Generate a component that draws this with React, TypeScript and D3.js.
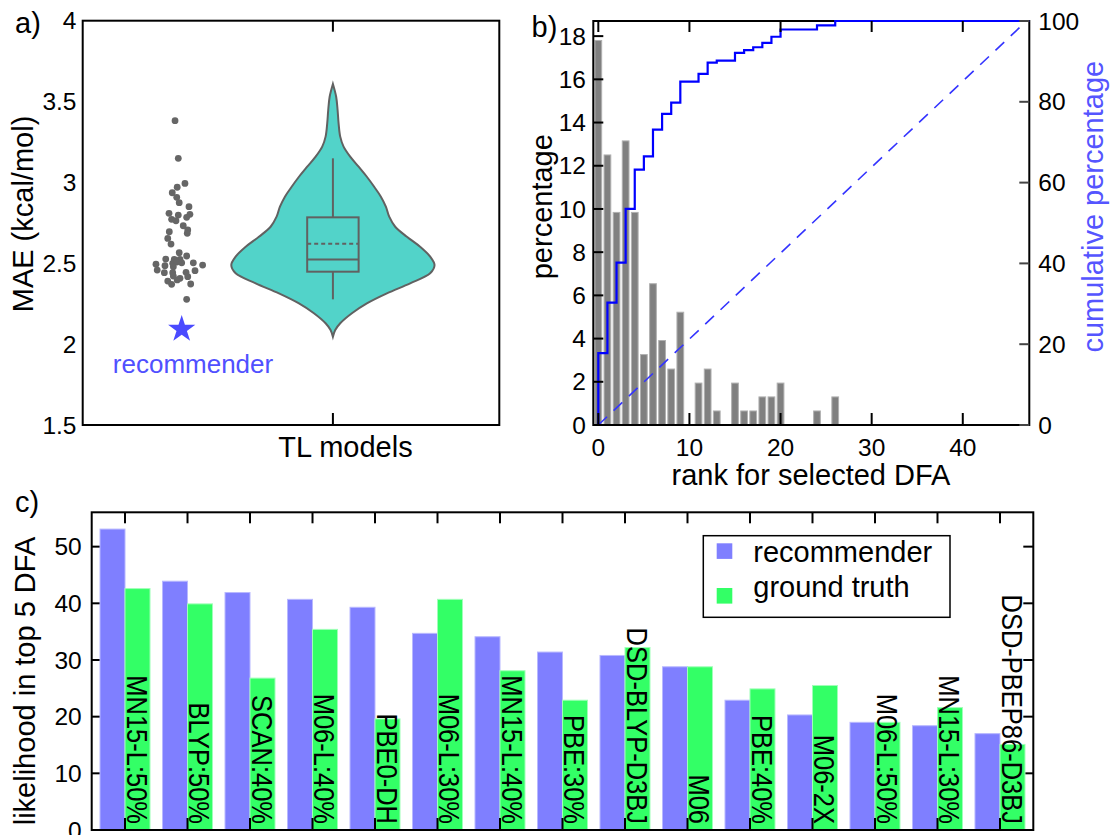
import React from 'react';
import * as d3 from 'd3';

const FONT = "'Liberation Sans', Arial, Helvetica, sans-serif";

// ---------- Panel a data ----------
const maeValues = [3.382, 3.149, 2.994, 2.970, 2.936, 2.908, 2.875, 2.850, 2.809, 2.798, 2.803, 2.772, 2.784, 2.763, 2.732, 2.706, 2.685, 2.695, 2.654, 2.619, 2.565, 2.545, 2.526, 2.524, 2.524, 2.500, 2.508, 2.503, 2.494, 2.503, 2.489, 2.485, 2.458, 2.479, 2.454, 2.442, 2.442, 2.444, 2.421, 2.407, 2.417, 2.390, 2.397, 2.370, 2.372, 2.277];
const maeJitter = [-0.019, 0.002, 0.045, -0.005, -0.037, -0.008, 0.008, 0.071, -0.058, 0.002, 0.077, -0.041, 0.056, -0.013, 0.034, 0.063, 0.060, -0.056, -0.066, -0.045, 0.008, 0.056, -0.079, -0.024, 0.013, -0.034, -0.008, 0.024, -0.142, 0.099, 0.159, -0.084, -0.134, -0.030, 0.110, -0.088, -0.034, 0.052, -0.030, 0.013, 0.063, -0.066, -0.005, -0.041, 0.082, 0.056];
const recommenderMAE = 2.092;
const violinValues = [3.609, 3.530, 3.448, 3.365, 3.283, 3.221, 3.159, 3.097, 3.035, 2.973, 2.912, 2.850, 2.788, 2.726, 2.664, 2.602, 2.541, 2.489, 2.438, 2.376, 2.314, 2.252, 2.191, 2.129, 2.087, 2.046];
const violinDensity = [0, 0.032, 0.046, 0.056, 0.072, 0.105, 0.17, 0.253, 0.334, 0.406, 0.472, 0.521, 0.554, 0.613, 0.728, 0.858, 0.957, 1.0, 0.957, 0.76, 0.531, 0.334, 0.187, 0.072, 0.023, 0];
const boxQuartiles = [2.448, 2.524, 2.784]; // q1, median, q3
const boxWhiskers = [2.277, 3.149];
const boxMean = 2.621;
const maeTicks = [1.5, 2, 2.5, 3, 3.5, 4];

// ---------- Panel b data ----------
const rankPercent = [17.8, 12.5, 9.84, 13.15, 9.84, 3.26, 6.54, 3.91, 2.59, 5.22, 0, 1.94, 2.59, 0.65, 0, 1.94, 0.65, 0.65, 1.3, 1.3, 1.94, 0, 0, 0, 0.65, 0, 1.3];
const cumulativePercent = [17.8, 30.3, 40.2, 53.5, 63.2, 66.5, 73.1, 77.0, 79.8, 85.0, 85.0, 86.9, 89.7, 90.2, 90.2, 92.1, 92.8, 93.5, 94.6, 96.1, 97.9, 97.9, 97.9, 97.9, 98.9, 98.9, 100];
const rankTicks = [0, 10, 20, 30, 40];
const pctTicks = [0, 2, 4, 6, 8, 10, 12, 14, 16, 18];
const cumTicks = [0, 20, 40, 60, 80, 100];
const numDFA = 47;

// ---------- Panel c data ----------
const dfaLabels = ['MN15-L:50%', 'BLYP:50%', 'SCAN:40%', 'M06-L:40%', 'PBE0-DH', 'M06-L:30%', 'MN15-L:40%', 'PBE:30%', 'DSD-BLYP-D3BJ', 'M06', 'PBE:40%', 'M06-2X', 'M06-L:50%', 'MN15-L:30%', 'DSD-PBEP86-D3BJ'];
const recommenderLikelihood = [53.1, 43.9, 41.9, 40.7, 39.3, 34.7, 34.1, 31.4, 30.8, 28.8, 22.9, 20.3, 19.0, 18.4, 17.0];
const groundTruthLikelihood = [42.6, 39.9, 26.8, 35.4, 19.6, 40.7, 28.1, 22.9, 32.2, 28.8, 24.9, 25.5, 19.0, 21.6, 15.1];
const likelihoodTicks = [0, 10, 20, 30, 40, 50];

const BLUE_BAR = '#7f7fff';
const GREEN_BAR = '#33ff66';
const TURQ = '#52d3c9';
const GRAY = '#616161';

export default function App() {
  // Panel a scales
  const xA = d3.scaleLinear().domain([-0.615, 2.074]).range([82.7, 499.3]);
  const yA = d3.scaleLinear().domain([1.5, 4]).range([425, 20.7]);
  const halfW = 0.656; // max half-width in category units
  const violinArea = d3.area<number>()
    .y((_, i) => yA(violinValues[i]))
    .x0((d) => xA(1 - d * halfW))
    .x1((d) => xA(1 + d * halfW))
    .curve(d3.curveCatmullRom);
  const boxHalf = 0.166;
  const star = d3.symbol().type(d3.symbolStar).size(230)();

  // Panel b scales
  const xB = d3.scaleLinear().domain([-0.55, 47.3]).range([593.3, 1029.3]);
  const yB = d3.scaleLinear().domain([0, 18.7]).range([425, 21]);
  const yB2 = d3.scaleLinear().domain([0, 100]).range([425, 21]);
  const stepPts: [number, number][] = [[0, 0], ...cumulativePercent.map((c, i) => [i, c] as [number, number]), [47.3, 100]];
  const stepLine = d3.line<[number, number]>().x((d) => xB(d[0])).y((d) => yB2(d[1])).curve(d3.curveStepAfter);
  const barHalfB = 0.37;

  // Panel c scales
  const xC = d3.scaleLinear().domain([-0.533, 14.533]).range([91.7, 1033.3]);
  const yC = d3.scaleLinear().domain([0, 56.06]).range([830, 512.3]);
  const bw = 0.4;

  const tickFs = 24.5;
  const labFs = 29;

  return (
    <svg width={1110} height={835} style={{ position: 'absolute', left: 0, top: 0, background: '#fff' }} fontFamily={FONT}>
      <rect x={0} y={0} width={1110} height={835} fill="#fff" />

      {/* ================= Panel a ================= */}
      <text x={15} y={33.3} fontSize={labFs}>a)</text>
      <path d={violinArea(violinDensity) || ''} fill={TURQ} stroke={GRAY} strokeWidth={2} />
      <line x1={xA(1)} x2={xA(1)} y1={yA(boxWhiskers[0])} y2={yA(boxQuartiles[0])} stroke={GRAY} strokeWidth={2} />
      <line x1={xA(1)} x2={xA(1)} y1={yA(boxQuartiles[2])} y2={yA(boxWhiskers[1])} stroke={GRAY} strokeWidth={2} />
      <rect x={xA(1 - boxHalf)} y={yA(boxQuartiles[2])} width={xA(1 + boxHalf) - xA(1 - boxHalf)} height={yA(boxQuartiles[0]) - yA(boxQuartiles[2])} fill="none" stroke={GRAY} strokeWidth={2} />
      <line x1={xA(1 - boxHalf)} x2={xA(1 + boxHalf)} y1={yA(boxQuartiles[1])} y2={yA(boxQuartiles[1])} stroke={GRAY} strokeWidth={2} />
      <line x1={xA(1 - boxHalf)} x2={xA(1 + boxHalf)} y1={yA(boxMean)} y2={yA(boxMean)} stroke={GRAY} strokeWidth={2} strokeDasharray="4,3" />
      {maeValues.map((v, i) => (
        <circle key={i} cx={xA(maeJitter[i])} cy={yA(v)} r={3.4} fill="#666" />
      ))}
      <path d={star || ''} transform={`translate(${xA(0.024)},${yA(recommenderMAE)})`} fill="#4a4aff" />
      <text x={193} y={373.3} fontSize={26} fill="#5050ff" textAnchor="middle">recommender</text>
      <rect x={82.7} y={20.7} width={499.3 - 82.7} height={425 - 20.7} fill="none" stroke="#000" strokeWidth={2} />
      <line x1={xA(1)} x2={xA(1)} y1={20.7} y2={31.7} stroke="#000" strokeWidth={2} />
      <line x1={xA(1)} x2={xA(1)} y1={425} y2={413} stroke="#000" strokeWidth={2} />
      {maeTicks.map((t) => (
        <text key={t} x={76.5} y={yA(t) + 8.6} fontSize={tickFs} textAnchor="end">{String(t)}</text>
      ))}
      <text x={345.5} y={457} fontSize={labFs} textAnchor="middle">TL models</text>
      <text transform={`translate(33.3,214) rotate(-90)`} fontSize={labFs} textAnchor="middle">MAE (kcal/mol)</text>

      {/* ================= Panel b ================= */}
      <text x={531.5} y={36.5} fontSize={labFs}>b)</text>
      {rankPercent.map((p, i) => p > 0 ? (
        <rect key={i} x={xB(i - barHalfB)} y={yB(p)} width={xB(i + barHalfB) - xB(i - barHalfB)} height={yB(0) - yB(p)} fill="#808080" stroke="#b0b0b0" strokeWidth={1} />
      ) : null)}
      <line x1={xB(0)} y1={yB2(0)} x2={xB(numDFA)} y2={yB2(100)} stroke="#3333ff" strokeWidth={1.6} strokeDasharray="12,9" />
      <rect x={593.3} y={21} width={1029.3 - 593.3} height={425 - 21} fill="none" stroke="#000" strokeWidth={2} />
      <path d={stepLine(stepPts) || ''} fill="none" stroke="#0000ff" strokeWidth={2.2} />
      {rankTicks.map((t) => (
        <g key={t}>
          <line x1={xB(t)} x2={xB(t)} y1={21} y2={32} stroke="#000" strokeWidth={2} />
          <line x1={xB(t)} x2={xB(t)} y1={425} y2={413} stroke="#000" strokeWidth={2} />
          <text x={xB(t)} y={456} fontSize={tickFs} textAnchor="middle">{String(t)}</text>
        </g>
      ))}
      {pctTicks.map((t) => (
        <g key={t}>
          <line x1={593.3} x2={603.3} y1={yB(t)} y2={yB(t)} stroke="#000" strokeWidth={2} />
          <text x={586} y={yB(t) + 8.6} fontSize={tickFs} textAnchor="end">{String(t)}</text>
        </g>
      ))}
      {cumTicks.map((t) => (
        <g key={t}>
          <line x1={1019.3} x2={1029.3} y1={yB2(t)} y2={yB2(t)} stroke="#444" strokeWidth={2} />
          <text x={1038.3} y={yB2(t) + 8.6} fontSize={tickFs} textAnchor="start">{String(t)}</text>
        </g>
      ))}
      <text x={811} y={485} fontSize={labFs} textAnchor="middle">rank for selected DFA</text>
      <text transform={`translate(552,206.7) rotate(-90)`} fontSize={labFs} textAnchor="middle">percentage</text>
      <text transform={`translate(1103,206.7) rotate(-90)`} fontSize={labFs} textAnchor="middle" fill="#5555ff">cumulative percentage</text>

      {/* ================= Panel c ================= */}
      <text x={15} y={511.7} fontSize={labFs}>c)</text>
      {likelihoodTicks.map((t) => (
        <g key={t}>
          <line x1={91.7} x2={101.7} y1={yC(t)} y2={yC(t)} stroke="#000" strokeWidth={2} />
          <line x1={1023.3} x2={1033.3} y1={yC(t)} y2={yC(t)} stroke="#000" strokeWidth={2} />
          <text x={81.7} y={yC(t) + 8.6} fontSize={tickFs} textAnchor="end">{String(t)}</text>
        </g>
      ))}
      {dfaLabels.map((lab, i) => (
        <g key={lab}>
          <rect x={xC(i - bw)} y={yC(recommenderLikelihood[i])} width={xC(i) - xC(i - bw)} height={yC(0) - yC(recommenderLikelihood[i])} fill={BLUE_BAR} stroke="#b8b8ff" strokeWidth={1} />
          <rect x={xC(i)} y={yC(groundTruthLikelihood[i])} width={xC(i + bw) - xC(i)} height={yC(0) - yC(groundTruthLikelihood[i])} fill={GREEN_BAR} stroke="#a0ffb8" strokeWidth={1} />
        </g>
      ))}
      {dfaLabels.map((lab, i) => (
        <g key={lab}>
          <line x1={xC(i)} x2={xC(i)} y1={512.3} y2={523.3} stroke="#000" strokeWidth={2} />
          <line x1={xC(i)} x2={xC(i)} y1={830} y2={818} stroke="#000" strokeWidth={2} />
          <text transform={`translate(${xC(i + bw / 2) - 10.7},${824}) rotate(90) scale(0.85,1)`} fontSize={30} textAnchor="end">{lab}</text>
        </g>
      ))}
      <rect x={91.7} y={512.3} width={1033.3 - 91.7} height={830 - 512.3} fill="none" stroke="#000" strokeWidth={2} />
      <rect x={703.3} y={535.7} width={246.7} height={81.6} fill="#fff" stroke="#000" strokeWidth={1.5} />
      <rect x={716.7} y={543.3} width={15.6} height={15.6} fill={BLUE_BAR} />
      <rect x={716.7} y={588} width={15.6} height={15.6} fill={GREEN_BAR} />
      <text x={753.3} y={562.3} fontSize={labFs}>recommender</text>
      <text x={753.3} y={597.3} fontSize={labFs}>ground truth</text>
      <text transform={`translate(35,681) rotate(-90)`} fontSize={labFs} textAnchor="middle">likelihood in top 5 DFA</text>
    </svg>
  );
}
